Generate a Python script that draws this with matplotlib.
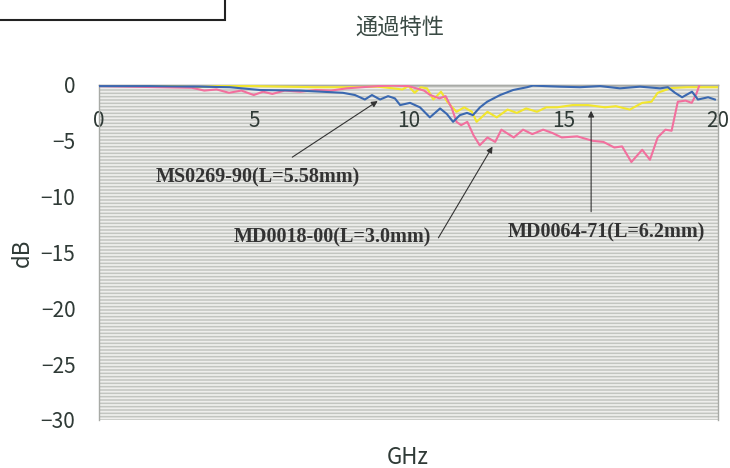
import matplotlib.pyplot as plt
from matplotlib.patches import Rectangle

plt.rcParams['font.family'] = ['Noto Sans CJK JP', 'DejaVu Sans']
plt.rcParams['hatch.linewidth'] = 1.3

# MS0269-90 (blue)
blue_f = [0, 1.65, 3.26, 4.23, 5.2, 6.49, 7.88, 8.27, 8.59, 8.82, 9.08, 9.34, 9.56, 9.73,
          10.05, 10.37, 10.69, 11.02, 11.24, 11.44, 11.66, 11.89, 12.08, 12.31, 12.54,
          12.96, 13.38, 13.83, 14.02, 14.41, 14.9, 15.54, 16.19, 16.83, 17.48, 18.13,
          18.38, 18.61, 18.84, 19.16, 19.35, 19.68, 19.9]
blue_db = [-0.1, -0.1, -0.15, -0.2, -0.45, -0.5, -0.7, -0.9, -1.3, -0.9, -1.3, -1.0, -1.2, -1.8,
           -1.6, -2.0, -2.9, -2.1, -2.6, -3.3, -2.7, -2.5, -2.7, -2.0, -1.5,
           -0.9, -0.45, -0.2, -0.05, -0.1, -0.15, -0.2, -0.1, -0.3, -0.15, -0.3,
           -0.2, -0.7, -1.1, -0.6, -1.3, -1.1, -1.3]

# MD0018-00 (pink)
pink_f = [0, 1.0, 2.0, 3.0, 3.4, 3.8, 4.2, 4.6, 5.0, 5.3, 5.6, 6.0, 6.5, 7.0, 7.5, 8.0, 8.5,
          9.0, 9.5, 10.0, 10.5, 10.7, 11.0, 11.2, 11.4, 11.55, 11.7, 11.9, 12.1, 12.3,
          12.55, 12.8, 13.0, 13.4, 13.7, 14.0, 14.35, 14.65, 14.95, 15.45, 15.95, 16.3,
          16.65, 16.9, 17.2, 17.55, 17.8, 18.05, 18.3, 18.5, 18.7, 18.95, 19.15, 19.3, 19.4]
pink_db = [-0.1, -0.15, -0.2, -0.25, -0.5, -0.4, -0.7, -0.5, -0.9, -0.6, -0.8, -0.5, -0.6,
           -0.45, -0.5, -0.3, -0.2, -0.1, -0.05, -0.1, -0.5, -0.9, -1.2, -1.0, -2.1, -3.3,
           -3.6, -3.3, -4.5, -5.4, -4.7, -5.1, -4.0, -4.7, -4.0, -4.4, -4.0, -4.3, -4.7,
           -4.6, -5.0, -5.1, -5.6, -5.5, -6.9, -5.8, -6.7, -4.7, -4.0, -4.1, -1.5, -1.4,
           -1.6, -0.8, 0]

# MD0064-71 (yellow)
yellow_f = [0, 2, 3.2, 3.8, 5, 6, 7, 8, 9, 9.5, 9.8, 10.0, 10.2, 10.4, 10.6, 10.8, 11.05,
            11.25, 11.55, 11.8, 12.05, 12.2, 12.55, 12.85, 13.2, 13.5, 13.8, 14.15, 14.45,
            14.8, 15.3, 15.8, 16.35, 16.7, 17.15, 17.55, 17.85, 18.05, 18.3, 18.5, 19, 20]
yellow_db = [0, -0.05, -0.2, -0.1, -0.1, -0.15, -0.2, -0.2, -0.15, -0.3, -0.4, -0.1, -0.7,
             -0.2, -0.3, -1.3, -0.6, -1.5, -2.4, -2.0, -2.4, -3.3, -2.4, -2.9, -2.2, -2.5,
             -2.1, -2.4, -2.0, -2.0, -1.8, -1.8, -2.0, -1.9, -2.2, -1.6, -1.5, -0.7, -0.45,
             -0.27, -0.2, -0.2]

xticks = [0, 5, 10, 15, 20]
yticks = [0, -5, -10, -15, -20, -25, -30]
ytick_labels = ['0', '\u22125', '\u221210', '\u221215', '\u221220', '\u221225', '\u221230']

fig = plt.figure(figsize=(7.3, 4.68), dpi=100)
ax = fig.add_axes([0.1356, 0.1026, 0.848, 0.7158])
ax.set_facecolor('#c2c5c0')
# scanned background stripes
ax.add_patch(Rectangle((0, 0), 1, 1, transform=ax.transAxes, facecolor='none',
                       edgecolor='#eeeeec', hatch='-----', lw=0, zorder=0))

ax.plot(yellow_f, yellow_db, color='#f2e62e', lw=1.5, zorder=3)
ax.plot(blue_f, blue_db, color='#3a68b0', lw=1.5, zorder=4)
ax.plot(pink_f, pink_db, color='#f2709e', lw=1.5, zorder=3)

ax.set_xlim(0, 20)
ax.set_ylim(-30, 0)
ax.set_xticks(xticks)
ax.set_yticks(yticks)
ax.set_yticklabels(ytick_labels)
ax.spines['bottom'].set_position(('data', 0))
for s in ax.spines.values():
    s.set_color('#a8aaa6')
    s.set_linewidth(1)
ax.tick_params(axis='both', length=0, labelsize=15, colors='#2f3a36')
ax.tick_params(axis='x', pad=18)
ax.tick_params(axis='y', pad=17)

fig.text(22 / 730, 1 - 253 / 468, 'dB', fontsize=16, color='#2f3a36', rotation=90,
         ha='center', va='center')
fig.text(408 / 730, 1 - 458 / 468, 'GHz', fontsize=16, color='#2f3a36',
         ha='center', va='center')
fig.text(400 / 730, 1 - 27 / 468, '通過特性', fontsize=16, color='#3a4a44',
         ha='center', va='center')

arrow = dict(arrowstyle='-|>', color='#333333', lw=0.8, mutation_scale=9)
txt = dict(fontsize=14.5, fontweight='bold', family=['Liberation Serif'], color='#333333',
           ha='center', va='center')
ax.annotate('', xy=(9.08, -1.3), xytext=(6.17, -6.6), arrowprops=arrow)
ax.text(5.14, -8.3, 'MS0269-90(L=5.58mm)', **txt)
ax.annotate('', xy=(12.76, -5.3), xytext=(10.92, -13.9), arrowprops=arrow)
ax.text(7.53, -13.7, 'MD0018-00(L=3.0mm)', **txt)
ax.annotate('', xy=(15.9, -2.06), xytext=(15.9, -11.6), arrowprops=arrow)
ax.text(16.38, -13.2, 'MD0064-71(L=6.2mm)', **txt)

# box at the top left of the scanned page
fig.patches.append(Rectangle((-0.01, 0.957), 0.318, 0.06, transform=fig.transFigure,
                             fill=False, lw=1.5, edgecolor='#222222'))

plt.savefig('out.png', dpi=100)
